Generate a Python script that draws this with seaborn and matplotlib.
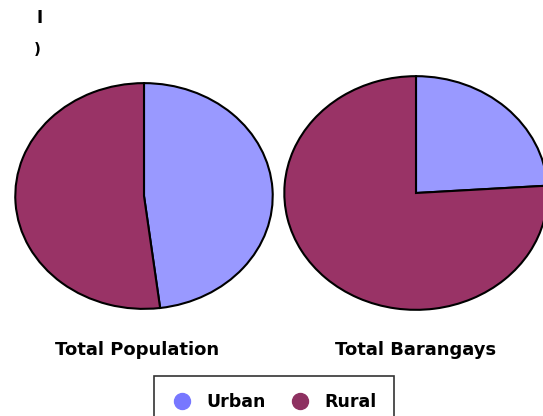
import matplotlib
matplotlib.use("Agg")
import matplotlib.pyplot as plt
from matplotlib.lines import Line2D
import seaborn as sns

categories = ["Urban", "Rural"]
population = [48, 52]
barangays = [24, 76]
titles = ["Total Population", "Total Barangays"]

sns.set_theme(style="white")
plt.rcParams['font.family'] = ['DejaVu Sans']
plt.rcParams['text.color'] = 'black'
colors = ["#9999FF", "#993366"]

W, H = 543, 416
fig = plt.figure(figsize=(W / 100, H / 100), dpi=100)
fig.patch.set_facecolor("white")

def px_axes(x0, y0, x1, y1):
    return fig.add_axes([x0 / W, 1 - y1 / H, (x1 - x0) / W, (y1 - y0) / H])

boxes = [(14, 82, 274, 310), (283, 75, 549, 311)]
for vals, box in zip([population, barangays], boxes):
    ax = px_axes(*box)
    ax.pie(vals, colors=colors, startangle=90, counterclock=False,
           wedgeprops=dict(edgecolor="black", linewidth=1.5))
    ax.set_aspect("auto")
    ax.set_xlim(-1.01, 1.01)
    ax.set_ylim(-1.01, 1.01)
    ax.axis("off")

fig.text(137 / W, 1 - 350 / H, titles[0], ha="center", va="center",
         fontsize=13, fontweight="bold")
fig.text(416 / W, 1 - 350 / H, titles[1], ha="center", va="center",
         fontsize=13, fontweight="bold")

fig.text(40 / W, 1 - 18 / H, "I", ha="center", va="center", fontsize=12, fontweight="bold")
fig.text(37 / W, 1 - 50 / H, ")", ha="center", va="center", fontsize=11, fontweight="bold")

handles = [Line2D([], [], marker="o", linestyle="", markersize=11.5,
                  markerfacecolor=c, markeredgecolor=c) for c in ["#7777FF", "#8E3161"]]
leg = fig.legend(handles, categories, loc="upper center",
                 bbox_to_anchor=(274 / W, 1 - 376 / H), ncol=2,
                 frameon=True, fancybox=False, edgecolor="black",
                 prop=dict(weight="bold", size=12.5), handletextpad=0.8,
                 handlelength=1.2, columnspacing=1.4, borderpad=1.0,
                 borderaxespad=0)
leg.get_frame().set_linewidth(1.2)

fig.savefig("out.png", dpi=100)
